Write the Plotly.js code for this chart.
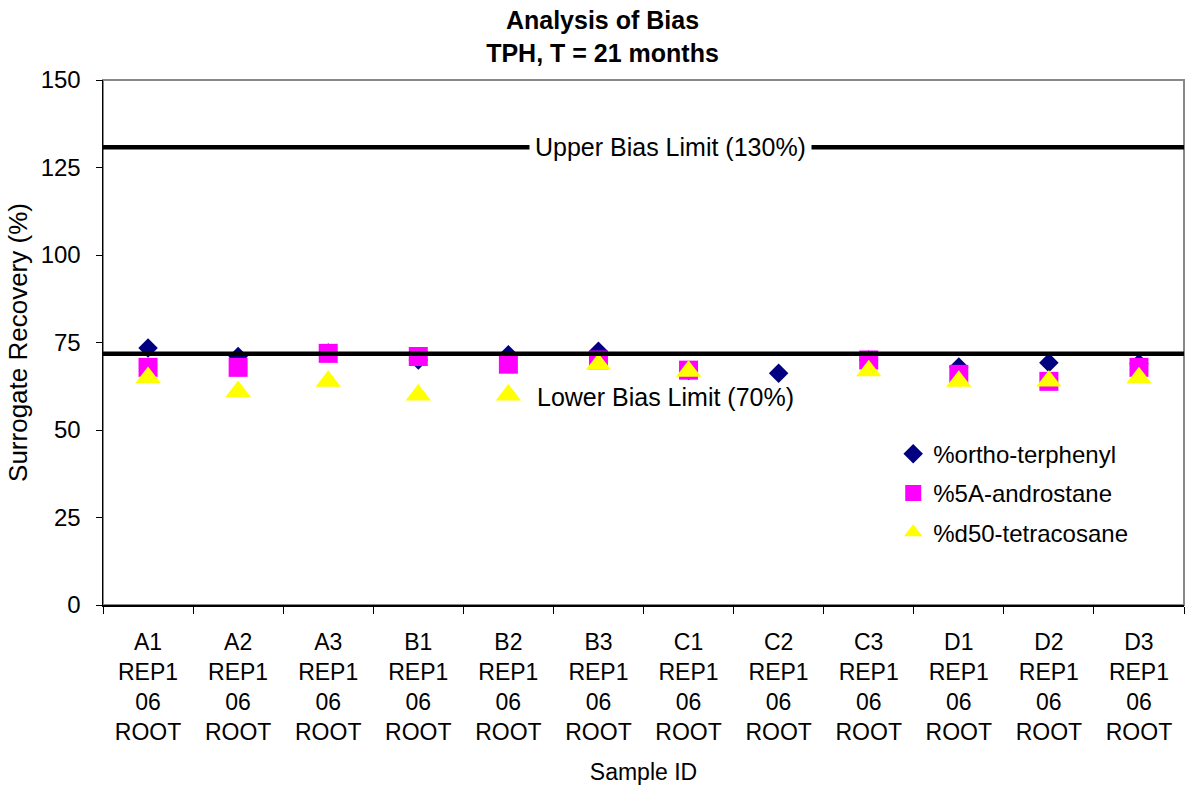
<!DOCTYPE html>
<html>
<head>
<meta charset="utf-8">
<script src="https://cdn.plot.ly/plotly-3.0.1.min.js"></script>
<style>html,body{margin:0;padding:0;background:#fff;}#chart{width:1186px;height:790px;}</style>
</head>
<body>
<div id="chart"></div>
<script>
var categories = ["A1<br>REP1<br>06<br>ROOT","A2<br>REP1<br>06<br>ROOT","A3<br>REP1<br>06<br>ROOT","B1<br>REP1<br>06<br>ROOT","B2<br>REP1<br>06<br>ROOT","B3<br>REP1<br>06<br>ROOT","C1<br>REP1<br>06<br>ROOT","C2<br>REP1<br>06<br>ROOT","C3<br>REP1<br>06<br>ROOT","D1<br>REP1<br>06<br>ROOT","D2<br>REP1<br>06<br>ROOT","D3<br>REP1<br>06<br>ROOT"];
var orthoTerphenyl = [73.4, 71, 72, 70, 71.5, 72.5, 67, 66.2, 70, 68, 69.2, 69];
var androstane = [67.9, 67.9, 71.9, 71, 68.8, 70, 67.1, null, 70, 65.9, 63.9, 67.9];
var tetracosane = [65, 61, 63.9, 60, 60, 68.8, 66.8, null, 66.9, 63.9, 64, 64.9];
var upperLimitDrawn = 130.8;
var lowerLimitDrawn = 71.8;
var yTicks = [0, 25, 50, 75, 100, 125, 150];

var FONT = "Liberation Sans, Arial, sans-serif";

var traces = [
  {x: categories, y: orthoTerphenyl, name: "%ortho-terphenyl", mode: "markers", type: "scatter", legendgroup: "a",
   marker: {symbol: "diamond", size: 15, color: "#000080"}},
  {x: categories, y: androstane, name: "%5A-androstane", mode: "markers", type: "scatter", legendgroup: "b",
   marker: {symbol: "square", size: 19, color: "#FF00FF"}},
  {x: categories, y: tetracosane, name: "%d50-tetracosane", mode: "markers", type: "scatter", legendgroup: "c",
   marker: {symbol: "triangle-up", size: 22, color: "#FFFF00"}}
];

var layout = {
  width: 1186, height: 790,
  margin: {l: 103, r: 2, t: 80, b: 185},
  paper_bgcolor: "#fff", plot_bgcolor: "#fff",
  font: {family: FONT, size: 23, color: "#000"},
  showlegend: true,
  title: {text: "<b>Analysis of Bias</b><br><b>TPH, T = 21 months</b>", font: {family: FONT, size: 25, color: "#000"},
          x: 0.508, xref: "container", y: 0.963, yref: "container", yanchor: "top"},
  xaxis: {type: "category", range: [-0.5, 11.5], tickson: "boundaries", ticks: "outside", ticklen: 7,
          tickcolor: "#000", showline: true, linecolor: "#000", linewidth: 1.5, showgrid: false, zeroline: false,
          tickfont: {family: FONT, size: 23}, ticklabelstandoff: 16,
          title: {text: "Sample ID", font: {family: FONT, size: 23}, standoff: 20}},
  yaxis: {range: [0, 150], tickvals: yTicks, ticks: "outside", ticklen: 6, tickcolor: "#000",
          showline: true, linecolor: "#000", linewidth: 1.5, showgrid: false, zeroline: false,
          tickfont: {family: FONT, size: 24}, ticklabelstandoff: 10,
          title: {text: "Surrogate Recovery (%)", font: {family: FONT, size: 26}, standoff: 5}},
  legend: {x: 0.731, xanchor: "left", y: 0.33, yanchor: "top", font: {family: FONT, size: 24},
           bgcolor: "rgba(0,0,0,0)", tracegroupgap: 5, itemwidth: 30},
  shapes: [
    {type: "rect", xref: "paper", yref: "paper", x0: 0, x1: 1, y0: 0, y1: 1, line: {color: "#888", width: 2}, layer: "below"},
    {type: "line", xref: "paper", yref: "y", x0: 0, x1: 1, y0: upperLimitDrawn, y1: upperLimitDrawn, line: {color: "#000", width: 4.5}, layer: "above"},
    {type: "line", xref: "paper", yref: "y", x0: 0, x1: 1, y0: lowerLimitDrawn, y1: lowerLimitDrawn, line: {color: "#000", width: 4.5}, layer: "above"}
  ],
  annotations: [
    {text: "Upper Bias Limit (130%)", xref: "paper", yref: "y", x: 0.525, y: upperLimitDrawn, showarrow: false,
     bgcolor: "#fff", font: {family: FONT, size: 25}, borderpad: 5},
    {text: "Lower Bias Limit (70%)", xref: "paper", yref: "y", x: 0.52, y: 59.4, showarrow: false,
     font: {family: FONT, size: 25}}
  ]
};

Plotly.newPlot("chart", traces, layout, {displayModeBar: false, staticPlot: true});
</script>
</body>
</html>
